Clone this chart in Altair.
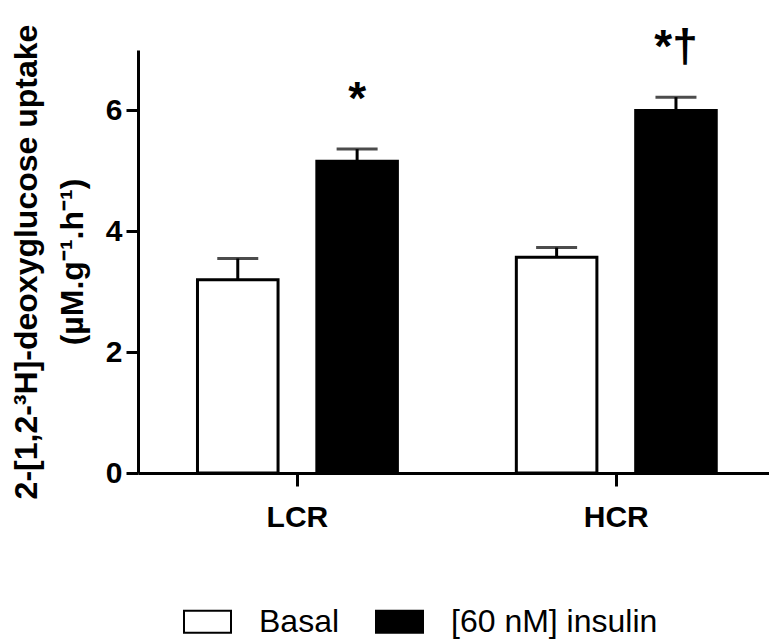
import altair as alt
import pandas as pd

groups = ["LCR", "LCR", "HCR", "HCR"]
conditions = ["Basal", "[60 nM] insulin", "Basal", "[60 nM] insulin"]
means = [3.20, 5.16, 3.57, 6.00]
sems = [0.35, 0.20, 0.16, 0.22]
marks = ["", "*", "", "*†"]

group_order = ["LCR", "HCR"]
cond_order = ["Basal", "[60 nM] insulin"]
y_ticks = [0, 2, 4, 6]

df = pd.DataFrame({
    "group": groups,
    "condition": conditions,
    "mean": means,
    "sem": sems,
    "mark": marks,
})
df["top"] = df["mean"] + df["sem"]

FONT = "Liberation Sans"

x_enc = alt.X(
    "group:N",
    sort=group_order,
    scale=alt.Scale(paddingInner=0.373, paddingOuter=0.176, align=0.53),
    axis=alt.Axis(
        title=None,
        labelAngle=0,
        labelFont=FONT,
        labelFontSize=30,
        labelFontWeight="bold",
        labelColor="black",
        labelPadding=16,
        tickSize=13,
        tickWidth=3,
        tickColor="black",
        domainColor="black",
        domainWidth=3,
        grid=False,
    ),
)
xo_enc = alt.XOffset(
    "condition:N",
    sort=cond_order,
    scale=alt.Scale(paddingInner=0.325, paddingOuter=0),
)
y_scale = alt.Scale(domain=[0, 7], nice=False)

bars = alt.Chart(df).mark_bar(stroke="black", strokeWidth=3).encode(
    x=x_enc,
    xOffset=xo_enc,
    y=alt.Y(
        "mean:Q",
        scale=y_scale,
        axis=alt.Axis(
            values=y_ticks,
            format="d",
            title=["2-[1,2-³H]-deoxyglucose uptake", "(µM.g⁻¹.h⁻¹)"],
            titleFont=FONT,
            titleFontSize=32,
            titleFontWeight="bold",
            titleColor="black",
            titleLineHeight=46,
            titlePadding=16,
            labelFont=FONT,
            labelFontSize=30,
            labelFontWeight="bold",
            labelColor="black",
            labelPadding=4,
            tickSize=12,
            tickWidth=3,
            tickColor="black",
            domainColor="black",
            domainWidth=3,
            grid=False,
        ),
    ),
    fill=alt.Fill(
        "condition:N",
        sort=cond_order,
        scale=alt.Scale(domain=cond_order, range=["white", "black"]),
        legend=alt.Legend(
            title=None,
            orient="none",
            direction="horizontal",
            legendX=45,
            legendY=547,
            symbolType="M-1,-0.47H1V0.47H-1Z",
            symbolSize=2209,
            symbolStrokeColor="black",
            symbolStrokeWidth=2,
            labelFont=FONT,
            labelFontSize=32,
            labelColor="black",
            labelOffset=27,
            labelLimit=0,
            columnPadding=32,
            padding=0,
        ),
    ),
)

errs = alt.Chart(df).mark_rule(color="black", strokeWidth=3).encode(
    x=alt.X("group:N", sort=group_order),
    xOffset=alt.XOffset("condition:N", sort=cond_order),
    y=alt.Y("mean:Q", scale=y_scale),
    y2="top:Q",
)

caps = alt.Chart(df).mark_tick(color="black", thickness=3, size=41, orient="horizontal").encode(
    x=alt.X("group:N", sort=group_order),
    xOffset=alt.XOffset("condition:N", sort=cond_order),
    y=alt.Y("top:Q", scale=y_scale),
)

stars = alt.Chart(df).mark_text(
    font=FONT, fontSize=46, fontWeight="bold", color="black",
    baseline="alphabetic", dy=-35, clip=False,
).encode(
    x=alt.X("group:N", sort=group_order),
    xOffset=alt.XOffset("condition:N", sort=cond_order),
    y=alt.Y("top:Q", scale=y_scale),
    text="mark:N",
)

chart = alt.layer(bars, errs, caps, stars).properties(
    width=631,
    height=423,
    autosize=alt.AutoSizeParams(type="none"),
    padding={"left": 130, "top": 42, "right": 0, "bottom": 166},
).configure(font=FONT).configure_view(stroke=None)

chart.save("out.html", embed_options={"renderer": "svg", "actions": False})
